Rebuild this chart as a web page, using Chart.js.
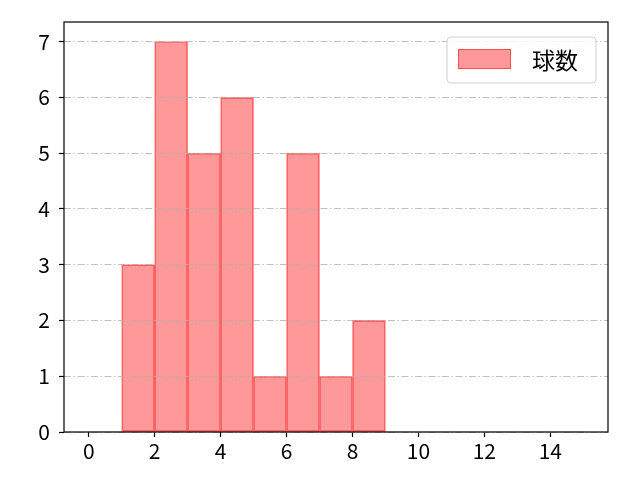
<!DOCTYPE html>
<html>
<head>
<meta charset="utf-8">
<script src="https://cdn.jsdelivr.net/npm/chart.js@4/dist/chart.umd.min.js"></script>
<style>
  html, body { margin: 0; padding: 0; background: #fff; }
  #wrap { width: 640px; height: 480px; }
</style>
</head>
<body>
<div id="wrap"><canvas id="chart" width="640" height="480"></canvas></div>
<script>
// histogram bins (edges) and counts per bin
const binEdges = [0, 1, 2, 3, 4, 5, 6, 7, 8, 9, 10, 11, 12, 13, 14, 15];
const counts = [0, 3, 7, 5, 6, 1, 5, 1, 2, 0, 0, 0, 0, 0, 0];
const seriesLabel = '球数';
const xTicks = [0, 2, 4, 6, 8, 10, 12, 14];
const yTicks = [0, 1, 2, 3, 4, 5, 6, 7];

const FONT = '"Noto Sans CJK JP", "DejaVu Sans", sans-serif';
const FSIZE = 21;
const FILL = 'rgba(255, 0, 0, 0.4)';
const EDGE = 'rgba(255, 0, 0, 0.5)';

document.addEventListener('DOMContentLoaded', () => {

    const points = counts.map((c, i) => ({ x: (binEdges[i] + binEdges[i + 1]) / 2, y: c }));

    // black frame round the plot area
    const frame = {
        id: 'frame',
        afterDraw(chart) {
            const { ctx, chartArea: a } = chart;
            ctx.save();
            ctx.strokeStyle = '#000';
            ctx.lineWidth = 1.2;
            ctx.strokeRect(a.left, a.top, a.right - a.left, a.bottom - a.top);
            ctx.restore();
        }
    };

    // matplotlib-like legend box in the upper right
    const boxLegend = {
        id: 'boxLegend',
        afterDraw(chart) {
            const { ctx, chartArea: a } = chart;
            const w = 149, h = 46;
            const x = a.right - 12 - w, y = a.top + 15;
            ctx.save();
            ctx.beginPath();
            ctx.roundRect(x, y, w, h, 4);
            ctx.fillStyle = 'rgba(255,255,255,0.8)';
            ctx.fill();
            ctx.strokeStyle = '#d0d0d0';
            ctx.lineWidth = 1;
            ctx.stroke();
            ctx.fillStyle = FILL;
            ctx.fillRect(x + 11, y + 12, 53, 20);
            ctx.strokeStyle = EDGE;
            ctx.strokeRect(x + 11.5, y + 12.5, 52, 19);
            ctx.fillStyle = '#000';
            ctx.font = '23px ' + FONT;
            ctx.textBaseline = 'middle';
            ctx.fillText(chart.data.datasets[0].label, x + 85, y + 23);
            ctx.restore();
        }
    };

    const ctx = document.getElementById('chart').getContext('2d');
    new Chart(ctx, {
        type: 'bar',
        data: {
            datasets: [{
                label: seriesLabel,
                data: points,
                backgroundColor: FILL,
                borderColor: EDGE,
                borderWidth: c => (c.raw && c.raw.y === 0 ? 0 : 1),
                borderSkipped: false,
                barPercentage: 1,
                categoryPercentage: 1
            }]
        },
        options: {
            responsive: false,
            animation: false,
            layout: { padding: { left: 0, top: 22, right: 32, bottom: 0 } },
            plugins: { legend: { display: false }, tooltip: { enabled: false } },
            scales: {
                x: {
                    type: 'linear',
                    offset: false,
                    min: -0.75,
                    max: 15.75,
                    afterBuildTicks: s => { s.ticks = xTicks.map(v => ({ value: v })); },
                    afterFit: s => { s.height = 48; },
                    grid: { offset: false, drawOnChartArea: false, tickLength: 5, tickColor: '#000', tickWidth: 1.2 },
                    border: { display: false },
                    ticks: { color: '#000', font: { family: FONT, size: FSIZE }, padding: 1, maxRotation: 0 }
                },
                y: {
                    min: 0,
                    max: 7.35,
                    afterBuildTicks: s => { s.ticks = yTicks.map(v => ({ value: v })); },
                    afterFit: s => { s.width = 64; },
                    grid: { z: 1, color: '#b0b0b0', lineWidth: 0.8, tickLength: 5, tickColor: '#000', tickWidth: 1.2, tickBorderDash: [] },
                    border: { display: false, dash: [7, 2.5, 1.5, 2.5] },
                    ticks: { color: '#000', font: { family: FONT, size: FSIZE }, padding: 9 }
                }
            }
        },
        plugins: [frame, boxLegend]
    });
});
</script>
</body>
</html>
